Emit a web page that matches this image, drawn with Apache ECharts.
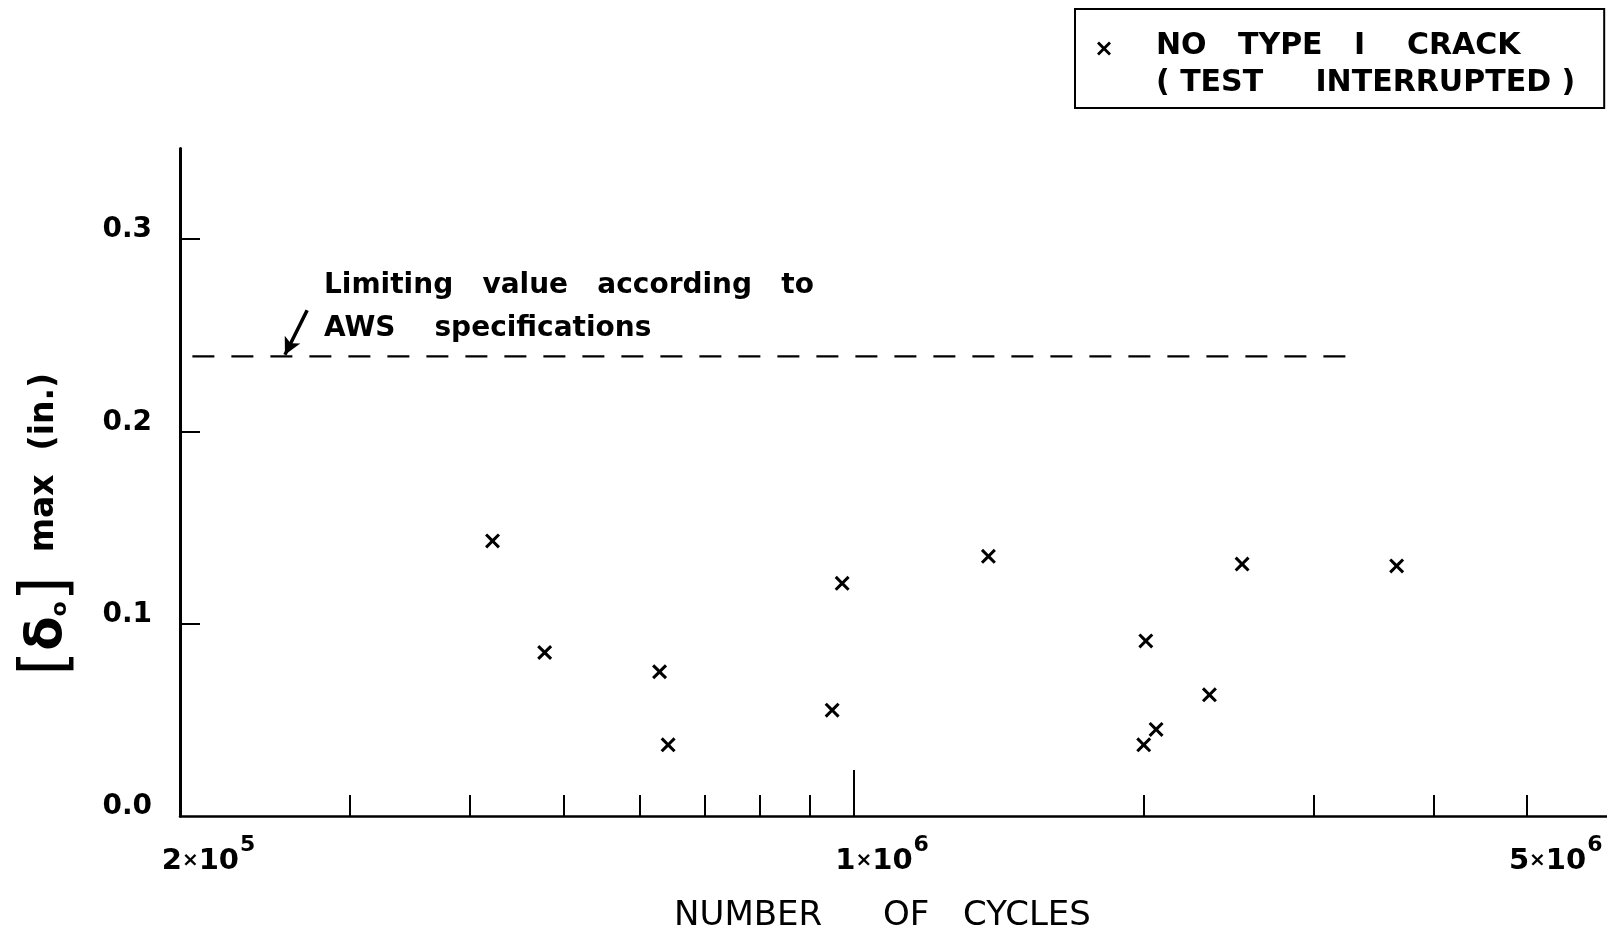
<!DOCTYPE html>
<html>
<head>
<meta charset="utf-8">
<script src="https://cdn.jsdelivr.net/npm/echarts@6/dist/echarts.min.js"></script>
<style>
  html, body { margin: 0; padding: 0; background: #fff; }
  #chart { width: 1607px; height: 938px; }
</style>
</head>
<body>
<div id="chart"></div>
<script>
// ---- data ----
const cycles   = [4.22e5, 4.78e5, 6.29e5, 6.42e5, 9.50e5, 9.73e5, 1.38e6, 2.01e6, 2.00e6, 2.06e6, 2.34e6, 2.53e6, 3.66e6];
const deltaMax = [0.143, 0.085, 0.075, 0.037, 0.055, 0.121, 0.135, 0.091, 0.037, 0.045, 0.063, 0.131, 0.130];
const seriesName = 'NO TYPE I CRACK (TEST INTERRUPTED)';

const limitValue = 0.239;               // AWS limiting value (in.)
const limitRange = [2.06e5, 3.29e6];    // extent of dashed line (cycles)
const arrowFrom  = [2.71e5, 0.263];
const arrowTo    = [2.57e5, 0.2398];

const xLabelValues = [2e5, 1e6, 5e6];
const xMinorTicks  = [3e5, 4e5, 5e5, 6e5, 7e5, 8e5, 9e5, 2e6, 3e6, 4e6, 5e6];
const xMajorTicks  = [1e6];
const yTickValues  = [0.1, 0.2, 0.3];
const yLabelValues = [0, 0.1, 0.2, 0.3];

// ---- styling helpers ----
const FONT = '"DejaVu Sans", sans-serif';
const crossPath = 'path://M2,0L7,5L12,0L14,2L9,7L14,12L12,14L7,9L2,14L0,12L5,7L0,2Z';
const crossLegendPath = 'path://M2,0L7,5L12,0L14,2L9,7L14,12L12,14L7,9L2,14L0,12L5,7L0,2ZM7,47';

const scatterData = cycles.map((c, i) => [c, deltaMax[i]]);
const limitData = limitRange.map(c => [c, limitValue]);

function sciLabel(v) {
  const e = Math.floor(Math.log10(v) + 1e-9);
  const m = Math.round(v / Math.pow(10, e));
  return '{sp|}{b|' + m + '}{x|×}{b|10}{sup|' + e + '}';
}

const chart = echarts.init(document.getElementById('chart'), null, { renderer: 'canvas' });

const xCommon = {
  type: 'log',
  logBase: 10,
  min: 2e5,
  max: 6.05e6,
  splitLine: { show: false },
  minorTick: { show: false },
  minorSplitLine: { show: false }
};

const option = {
  backgroundColor: '#ffffff',
  animation: false,
  textStyle: { fontFamily: FONT, color: '#000' },
  grid: { left: 180, right: 0, top: 148.6, bottom: 120, containLabel: false },
  legend: {
    left: 1075,
    top: 9,
    orient: 'vertical',
    icon: crossLegendPath,
    itemWidth: 28,
    itemHeight: 47,
    padding: [19, 29, 6, 22],
    borderColor: '#000',
    borderWidth: 2,
    borderRadius: 0,
    selectedMode: false,
    data: [seriesName],
    formatter: () => 'NO   TYPE   I    CRACK\n( TEST     INTERRUPTED )',
    textStyle: {
      fontFamily: FONT,
      fontSize: 30,
      fontWeight: 'bold',
      color: '#000',
      lineHeight: 37,
      padding: [0, 0, 0, 33]
    }
  },
  xAxis: [
    Object.assign({}, xCommon, {
      position: 'bottom',
      name: '{a|NUMBER }{b|OF }{c|CYCLES}',
      nameLocation: 'middle',
      nameGap: 83,
      nameTextStyle: {
        padding: [0, 22, 0, 0],
        rich: {
          a: { fontFamily: FONT, fontSize: 34, color: '#000', width: 209, align: 'left' },
          b: { fontFamily: FONT, fontSize: 34, color: '#000', width: 80, align: 'left' },
          c: { fontFamily: FONT, fontSize: 34, color: '#000', align: 'left' }
        }
      },
      axisLine: { show: true, lineStyle: { color: '#000', width: 2.5 } },
      axisTick: { show: true, inside: true, length: 21, customValues: xMinorTicks, lineStyle: { color: '#000', width: 2 } },
      axisLabel: {
        show: true,
        customValues: xLabelValues,
        margin: 18,
        align: 'center',
        formatter: sciLabel,
        rich: {
          sp:  { width: 57 },
          b:   { fontFamily: FONT, fontSize: 29, fontWeight: 'bold', color: '#000' },
          x:   { fontFamily: FONT, fontSize: 20, fontWeight: 'bold', color: '#000' },
          sup: { fontFamily: FONT, fontSize: 22, fontWeight: 'bold', color: '#000', padding: [0, 0, 32, 1] }
        }
      }
    }),
    Object.assign({}, xCommon, {
      position: 'bottom',
      offset: 0,
      axisLine: { show: false },
      axisTick: { show: true, inside: true, length: 46, customValues: xMajorTicks, lineStyle: { color: '#000', width: 2 } },
      axisLabel: { show: false }
    })
  ],
  yAxis: {
    type: 'value',
    min: 0,
    max: 0.347,
    interval: 0.1,
    splitLine: { show: false },
    axisLine: { show: true, lineStyle: { color: '#000', width: 3 } },
    axisTick: { show: true, inside: true, length: 20, customValues: yTickValues, lineStyle: { color: '#000', width: 2 } },
    axisLabel: {
      show: true,
      customValues: yLabelValues,
      margin: 28,
      fontFamily: FONT,
      fontSize: 28,
      fontWeight: 'bold',
      color: '#000',
      verticalAlign: 'bottom',
      lineHeight: 18,
      formatter: v => v.toFixed(1)
    },
    name: '{br|[}{d|δ}{s|o}{br|]}{m|max}{p|(in.)}',
    nameLocation: 'middle',
    nameRotate: 90,
    nameGap: 100,
    nameTextStyle: {
      padding: [0, 84, 0, 0],
      rich: {
        br: { fontFamily: FONT, fontSize: 64, color: '#000' },
        d:  { fontFamily: FONT, fontSize: 50, fontWeight: 'bold', color: '#000' },
        s:  { fontFamily: FONT, fontSize: 22, fontWeight: 'bold', color: '#000', padding: [24, 0, 0, 0] },
        m:  { fontFamily: FONT, fontSize: 33, fontWeight: 'bold', color: '#000', padding: [0, 0, 8, 24] },
        p:  { fontFamily: FONT, fontSize: 33, fontWeight: 'bold', color: '#000', padding: [0, 0, 8, 24] }
      }
    }
  },
  graphic: [
    {
      type: 'text',
      left: 324,
      top: 264,
      silent: true,
      style: {
        text: 'Limiting   value   according   to\nAWS    specifications',
        font: 'bold 28px "DejaVu Sans"',
        lineHeight: 43,
        fill: '#000'
      }
    }
  ],
  series: [
    {
      name: seriesName,
      type: 'scatter',
      xAxisIndex: 0,
      yAxisIndex: 0,
      symbol: crossPath,
      symbolSize: 15,
      itemStyle: { color: '#000', opacity: 1 },
      data: scatterData
    },
    {
      name: 'AWS limit',
      type: 'line',
      xAxisIndex: 0,
      yAxisIndex: 0,
      symbol: 'none',
      silent: true,
      lineStyle: { color: '#000', width: 2.2, type: [22, 17] },
      data: limitData,
      markLine: {
        silent: true,
        symbol: ['none', 'arrow'],
        symbolSize: [13, 17],
        label: { show: false },
        lineStyle: { color: '#000', width: 3.5, type: 'solid' },
        data: [[{ coord: arrowFrom }, { coord: arrowTo }]]
      }
    }
  ]
};

chart.setOption(option);
</script>
</body>
</html>
